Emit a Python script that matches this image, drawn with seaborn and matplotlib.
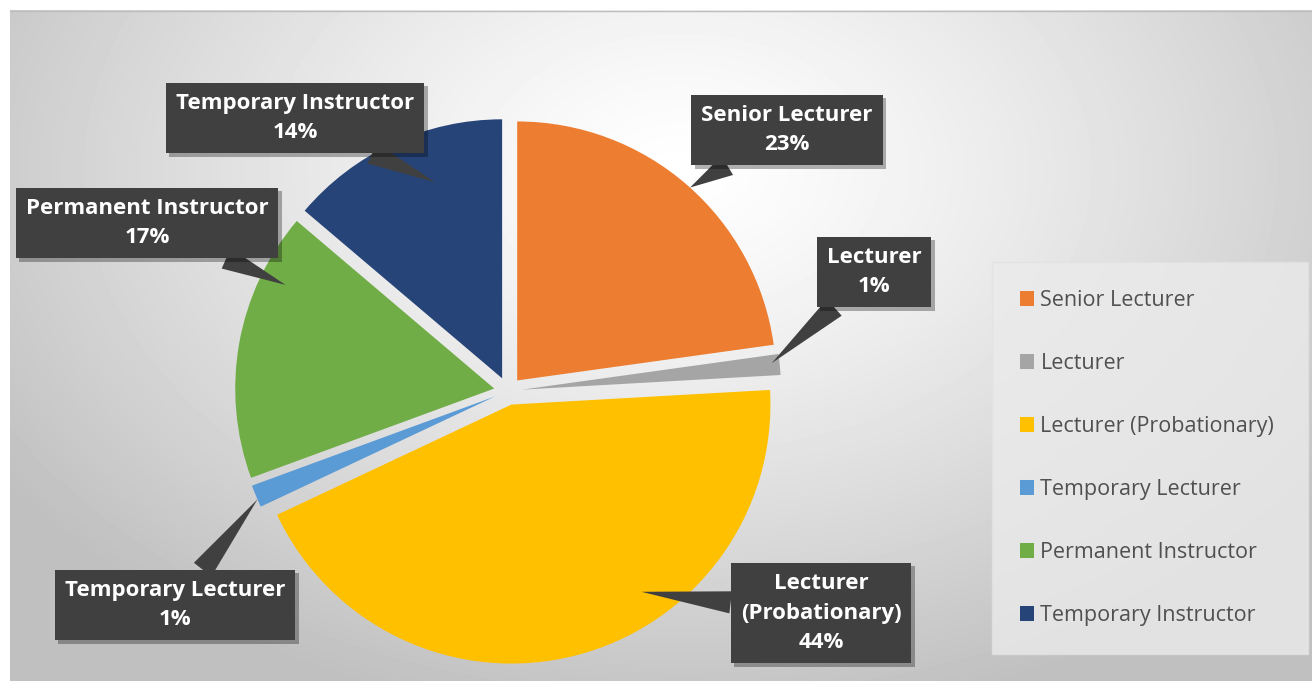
import numpy as np
import matplotlib.pyplot as plt
import matplotlib.patheffects as pe
import seaborn as sns

sns.set_theme(style="white")
plt.rcParams["font.family"] = ["Open Sans", "DejaVu Sans"]

categories = ["Senior Lecturer", "Lecturer", "Lecturer (Probationary)",
              "Temporary Lecturer", "Permanent Instructor", "Temporary Instructor"]
callout_names = ["Senior Lecturer", "Lecturer", "Lecturer\n(Probationary)",
                 "Temporary Lecturer", "Permanent Instructor", "Temporary Instructor"]
shares = [22.8, 1.3, 43.9, 1.4, 16.8, 13.8]
colors = ["#ED7D31", "#A5A5A5", "#FFC000", "#5B9BD5", "#70AD47", "#264478"]

# callout layout: box centre (px, y from top) and tip (fraction along wedge, fraction of radius)
box_xy = [(787, 130), (874, 272), (821, 613), (175, 605), (147, 223), (295, 118)]
tip_tr = [(0.49, 1.0), (0.6, 0.97), (0.63, 0.88), (0.65, 1.0), (0.23, 0.9), (0.38, 0.8)]

W, H = 1312, 681
R = 259
fig = plt.figure(figsize=(W / 100, H / 100), dpi=100)
ax = fig.add_axes([0, 0, 1, 1])

# background gradient like the Excel chart area
yy, xx = np.mgrid[10:H, 10:W]
d = np.sqrt(((xx - 680) / 820.0) ** 2 + ((yy - 170) / 560.0) ** 2)
shade = 1 - 0.25 * np.clip(d, 0, 1) ** 1.25
ax.imshow(shade, cmap="gray", vmin=0, vmax=1, extent=(10, W, 0, H - 10),
          origin="upper", zorder=0, aspect="auto")
ax.plot([10, W], [H - 11, H - 11], color="#bdbdbd", lw=1, zorder=1)

total = sum(shares)
wedges, _ = ax.pie(shares, colors=colors, startangle=90, counterclock=False,
                   center=(508, H - 391), radius=R, explode=[0.054 * R] * len(shares),
                   wedgeprops=dict(linewidth=0), frame=True)
ax.set_xlim(0, W)
ax.set_ylim(0, H)
ax.axis("off")

for w, name, v, (bx, by), (t, rf) in zip(wedges, callout_names, shares, box_xy, tip_tr):
    ang = np.deg2rad(w.theta1 + t * (w.theta2 - w.theta1))
    cx, cy = w.center
    tip = (cx + w.r * rf * np.cos(ang), cy + w.r * rf * np.sin(ang))
    txt = f"{name}\n{round(100 * v / total):.0f}%"
    ann = ax.annotate(txt, xy=tip, xytext=(bx, H - by), ha="center", va="center",
                      color="white", fontsize=16, fontweight="bold", linespacing=1.55,
                      bbox=dict(boxstyle="square,pad=0.45", fc="#404040", ec="none"),
                      arrowprops=dict(arrowstyle="wedge,tail_width=1.0,shrink_factor=0.5",
                                      fc="#404040", ec="none", shrinkA=0, shrinkB=0),
                      zorder=5)
    ann.get_bbox_patch().set_path_effects(
        [pe.SimplePatchShadow(offset=(2.5, -2.5), shadow_rgbFace="black", alpha=0.3), pe.Normal()])

leg = ax.legend(wedges, categories, loc="upper left",
                bbox_to_anchor=(992 / W, 1 - 650 / H, 316 / W, 388 / H), mode="expand",
                frameon=True, fancybox=False, handlelength=0.65, handleheight=0.65,
                handletextpad=0.3, labelspacing=1.95, borderpad=1.3, borderaxespad=0,
                prop={"family": "Open Sans", "size": 15.5})
leg.get_frame().set_facecolor("#ebebeb")
leg.get_frame().set_edgecolor("#e2e2e2")
for t in leg.get_texts():
    t.set_color("#505050")

fig.savefig("out.png", dpi=100)
